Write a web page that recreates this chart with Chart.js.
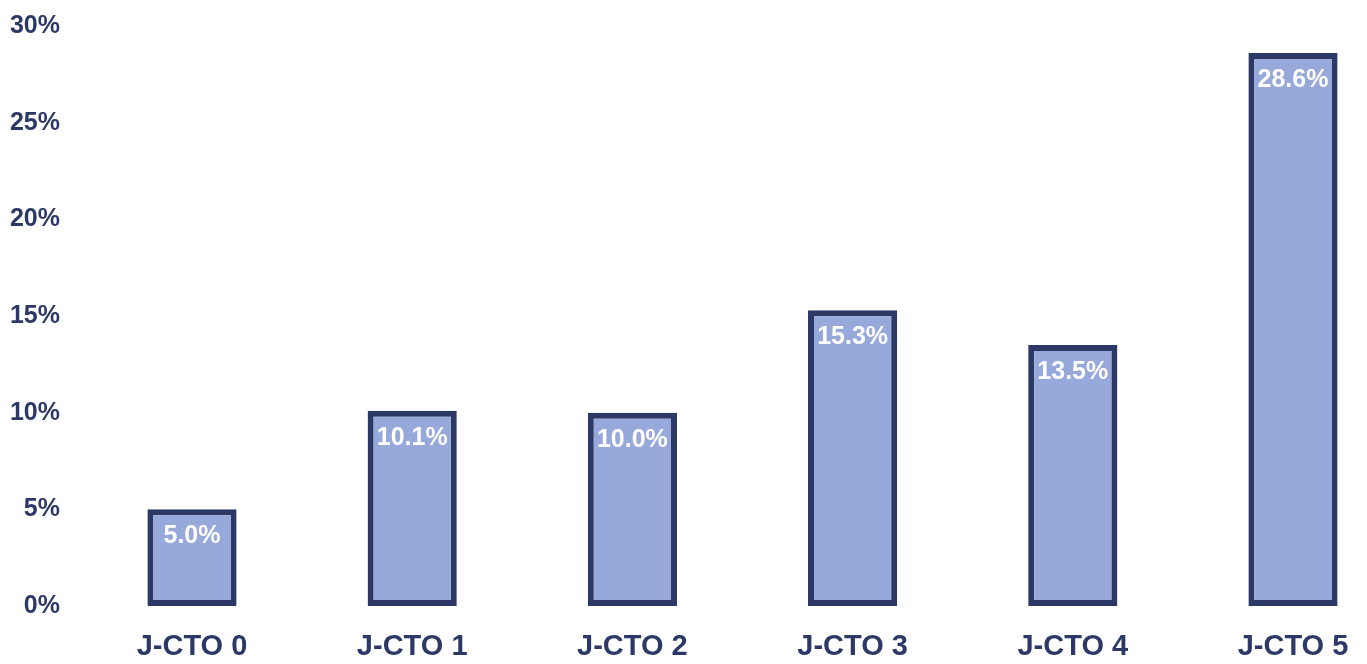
<!DOCTYPE html>
<html>
<head>
<meta charset="utf-8">
<script src="https://cdn.jsdelivr.net/npm/chart.js@4.4.1/dist/chart.umd.min.js"></script>
<style>
  html, body { margin: 0; padding: 0; background: #ffffff; overflow: hidden; }
  canvas { display: block; }
</style>
</head>
<body>
<canvas id="c" width="1367" height="664" style="width:1367px;height:664px"></canvas>
<script>
const categories = ["J-CTO 0", "J-CTO 1", "J-CTO 2", "J-CTO 3", "J-CTO 4", "J-CTO 5"];
const values = [5.0, 10.1, 10.0, 15.3, 13.5, 28.6];
const valueLabels = ["5.0%", "10.1%", "10.0%", "15.3%", "13.5%", "28.6%"];
const yTicks = [0, 5, 10, 15, 20, 25, 30];

const NAVY = '#2c3966';
const FILL = '#97a9da';

const barLabels = {
  id: 'barLabels',
  afterDatasetsDraw(chart) {
    const ctx = chart.ctx;
    const meta = chart.getDatasetMeta(0);
    ctx.save();
    ctx.font = 'bold 25px "Liberation Sans", Arial, sans-serif';
    ctx.fillStyle = '#ffffff';
    ctx.textAlign = 'center';
    ctx.textBaseline = 'middle';
    meta.data.forEach((el, i) => {
      ctx.fillText(valueLabels[i], el.x, el.y + 27);
    });
    ctx.restore();
  }
};

new Chart(document.getElementById('c'), {
  type: 'bar',
  data: {
    labels: categories,
    datasets: [{
      data: values,
      backgroundColor: FILL,
      borderColor: NAVY,
      borderWidth: 6,
      borderSkipped: false,
      categoryPercentage: 1.0,
      barPercentage: 0.405,
      clip: false
    }]
  },
  options: {
    responsive: false,
    maintainAspectRatio: false,
    animation: false,
    devicePixelRatio: 1,
    layout: { padding: { left: 10, right: 74, top: 26, bottom: 0 } },
    plugins: { legend: { display: false }, tooltip: { enabled: false } },
    scales: {
      x: {
        offset: false,
        grid: { display: false, drawTicks: true, tickLength: 20 },
        border: { display: false },
        ticks: {
          color: NAVY,
          padding: 4,
          maxRotation: 0,
          autoSkip: false,
          font: { family: '"Liberation Sans", Arial, sans-serif', size: 29, weight: 'bold' }
        },
        afterFit(scale) { scale.height = 58; scale.paddingLeft = 0; scale.paddingRight = 0; }
      },
      y: {
        min: 0,
        max: 30,
        afterBuildTicks(scale) { scale.ticks = yTicks.map(v => ({ value: v })); },
        grid: { display: false, drawTicks: true, tickLength: 124 },
        border: { display: false },
        ticks: {
          color: NAVY,
          padding: 8,
          callback: (v) => v + '%',
          font: { family: '"Liberation Sans", Arial, sans-serif', size: 25, weight: 'bold' }
        },
        afterFit(scale) { scale.width = 182; }
      }
    }
  },
  plugins: [barLabels]
});
</script>
</body>
</html>
